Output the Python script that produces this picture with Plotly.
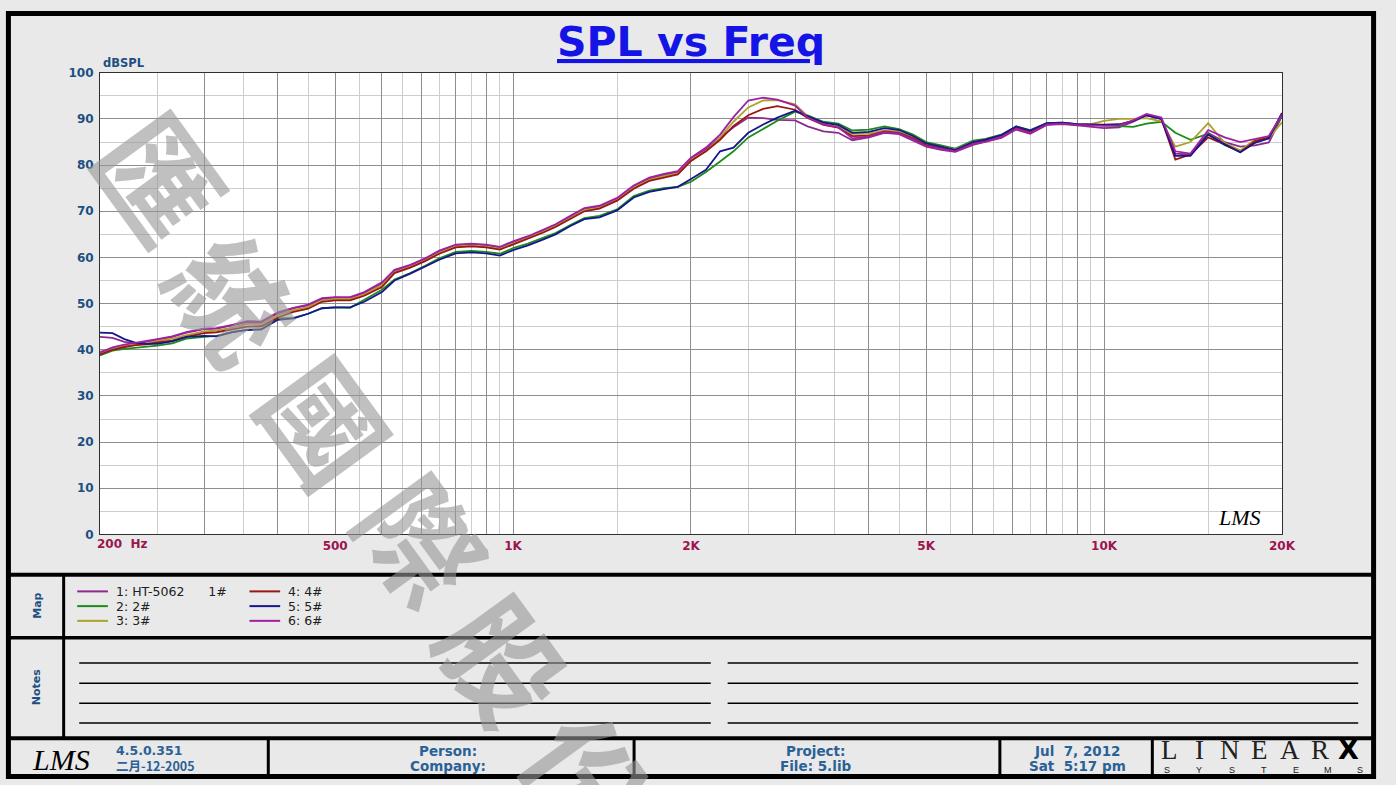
import math
import plotly.graph_objects as go

W, H = 1396, 785
def px(x): return x / W
def py(y): return 1 - y / H

# ---------------- data ----------------
freq = [200, 210, 220, 230, 240, 250, 265, 280, 300, 315, 335, 355, 375,
        400, 425, 450, 475, 500, 530, 560, 600, 630, 670, 710, 750,
        800, 850, 900, 950, 1000, 1060, 1120, 1180, 1250, 1320, 1400, 1500,
        1600, 1700, 1800, 1900, 2000, 2120, 2240, 2360, 2500, 2650, 2800, 3000,
        3150, 3350, 3550, 3750, 4000, 4250, 4500, 4750, 5000,
        5300, 5600, 6000, 6300, 6700, 7100, 7500, 8000, 8500, 9000, 9500, 10000,
        10600, 11200, 11800, 12500, 13200, 14000, 15000, 16000, 17000, 18000, 19000, 20000]

s1 = [42.8, 42.6, 41.7, 41.4, 41.7, 42.2, 42.8, 43.7, 44.5, 44.6, 45.3, 46.0, 46.0,
      47.9, 49.0, 49.6, 51.0, 51.3, 51.2, 52.3, 54.4, 57.1, 58.3, 59.6, 61.3,
      62.6, 62.8, 62.6, 62.1, 63.3, 64.4, 65.7, 67.0, 68.8, 70.5, 71.0, 72.7,
      75.4, 77.1, 77.9, 78.5, 81.4, 83.5, 86.0, 88.2, 90.3, 90.2, 89.8, 89.7,
      88.4, 87.3, 87.0, 85.4, 86.0, 87.0, 86.7, 85.4, 84.0,
      83.3, 82.9, 84.4, 85.0, 85.9, 87.7, 86.8, 88.7, 88.9, 88.6, 88.3, 88.0,
      88.2, 89.4, 90.8, 90.0, 82.5, 82.3, 87.0, 85.0, 84.0, 84.3, 84.9, 90.6]

s2 = [38.8, 39.8, 40.2, 40.4, 40.6, 40.9, 41.4, 42.4, 42.8, 43.0, 43.8, 44.3, 44.4,
      46.8, 46.9, 47.8, 49.0, 49.2, 49.1, 50.8, 53.0, 55.2, 56.6, 58.2, 59.8,
      61.2, 61.4, 61.2, 60.8, 62.0, 63.0, 64.2, 65.3, 67.0, 68.5, 69.0, 70.4,
      73.3, 74.5, 75.0, 75.3, 76.4, 78.5, 80.8, 83.0, 86.0, 87.9, 89.6, 91.6,
      90.8, 89.4, 89.0, 87.5, 87.7, 88.4, 87.8, 86.6, 85.0,
      84.3, 83.6, 85.3, 85.7, 86.6, 88.4, 87.6, 89.1, 89.2, 88.9, 88.8, 88.6,
      88.5, 88.3, 89.0, 89.4, 87.0, 85.5, 86.8, 84.3, 83.0, 85.0, 85.8, 90.8]

s3 = [39.6, 40.3, 40.8, 41.1, 41.4, 41.9, 42.4, 43.2, 44.0, 44.2, 44.8, 45.6, 45.6,
      47.5, 48.6, 49.3, 50.7, 51.0, 51.0, 52.0, 54.0, 56.8, 58.0, 59.4, 61.0,
      62.4, 62.6, 62.4, 61.9, 63.0, 64.2, 65.5, 66.8, 68.6, 70.3, 70.8, 72.5,
      75.2, 76.8, 77.6, 78.2, 81.2, 83.0, 86.0, 89.4, 92.5, 94.0, 94.1, 93.2,
      90.6, 89.0, 88.5, 86.8, 86.8, 87.5, 87.2, 86.0, 84.5,
      83.9, 83.4, 85.0, 85.4, 86.4, 88.2, 87.4, 89.0, 89.1, 88.8, 88.9, 89.6,
      90.0, 90.0, 90.2, 89.5, 84.0, 85.0, 89.1, 84.8, 83.2, 85.5, 85.8, 89.3]

s4 = [39.0, 40.0, 40.6, 41.0, 41.2, 41.6, 42.0, 42.8, 43.6, 43.8, 44.4, 45.0, 45.1,
      47.0, 48.2, 48.9, 50.4, 50.7, 50.7, 51.7, 53.6, 56.6, 57.8, 59.2, 60.8,
      62.2, 62.4, 62.2, 61.7, 62.8, 64.0, 65.3, 66.6, 68.4, 70.0, 70.6, 72.3,
      74.9, 76.6, 77.3, 78.0, 80.9, 83.0, 85.5, 88.5, 90.8, 92.2, 92.8, 92.0,
      90.2, 88.7, 88.1, 86.3, 86.4, 87.3, 87.0, 85.8, 84.3,
      83.7, 83.1, 84.8, 85.3, 86.3, 88.1, 87.2, 89.0, 89.1, 88.8, 88.7, 88.7,
      88.8, 89.6, 90.9, 90.0, 81.2, 82.3, 86.0, 84.5, 82.8, 85.2, 86.0, 91.2]

s5 = [43.7, 43.6, 42.3, 41.5, 41.3, 41.3, 41.8, 42.8, 43.0, 42.9, 43.8, 44.3, 44.4,
      46.5, 46.8, 47.8, 49.0, 49.2, 49.2, 50.4, 52.5, 55.0, 56.5, 58.0, 59.5,
      60.9, 61.1, 60.9, 60.4, 61.6, 62.6, 63.8, 65.0, 66.8, 68.3, 68.7, 70.2,
      73.0, 74.2, 74.8, 75.3, 77.0, 79.0, 83.0, 83.8, 87.0, 88.8, 90.3, 91.8,
      90.6, 89.2, 88.7, 87.0, 87.2, 88.0, 87.6, 86.3, 84.7,
      84.0, 83.3, 85.0, 85.5, 86.5, 88.4, 87.5, 89.1, 89.2, 88.9, 88.8, 88.7,
      88.8, 89.6, 90.8, 90.0, 82.0, 82.0, 86.6, 84.5, 82.8, 84.8, 85.8, 91.3]

s6 = [39.4, 40.5, 41.1, 41.5, 41.8, 42.3, 42.9, 43.8, 44.6, 44.7, 45.4, 46.2, 46.1,
      48.1, 49.1, 49.8, 51.2, 51.4, 51.4, 52.5, 54.6, 57.3, 58.4, 59.8, 61.5,
      62.8, 63.0, 62.8, 62.3, 63.5, 64.6, 65.9, 67.2, 69.0, 70.7, 71.2, 72.9,
      75.6, 77.3, 78.1, 78.7, 81.6, 83.8, 86.6, 90.4, 94.0, 94.6, 94.2, 92.9,
      90.3, 88.8, 88.2, 85.8, 86.2, 87.2, 86.9, 85.6, 84.1,
      83.5, 83.0, 84.6, 85.1, 86.1, 87.9, 87.0, 88.8, 89.0, 88.7, 88.6, 88.5,
      88.6, 89.7, 91.1, 90.3, 83.0, 82.5, 87.6, 86.0, 85.0, 85.7, 86.3, 91.0]

series = [s1, s2, s3, s4, s5, s6]
names = ["1: HT-5062\u00a0\u00a0\u00a0\u00a0\u00a0\u00a01#", "2: 2#", "3: 3#",
         "4: 4#", "5: 5#", "6: 6#"]
colors = ["#8e2a8e", "#1a8c1a", "#aca22c", "#9a1616", "#16168e", "#a21ea2"]

y_ticks = list(range(0, 101, 10))
y_minor = list(range(5, 100, 10))
x_major = [200, 300, 400, 500, 600, 700, 800, 900, 1000,
           2000, 3000, 4000, 5000, 6000, 7000, 8000, 9000, 10000, 20000]
x_minor = [250, 350, 450, 550, 650, 750, 850, 950,
           1500, 2500, 3500, 4500, 5500, 6500, 7500, 8500, 9500, 15000]
x_labels = {500: "500", 1000: "1K", 2000: "2K", 5000: "5K", 10000: "10K", 20000: "20K"}
x_first_label = "200\u00a0\u00a0Hz"

# ---------------- figure ----------------
fig = go.Figure()
for s, n, c in zip(series, names, colors):
    fig.add_trace(go.Scatter(x=freq, y=s, name=n, mode="lines",
                             line=dict(color=c, width=1.8), showlegend=False))

BLUE = "#1d4f82"
RED = "#9c1450"
FOOT = "#2a6196"

fig.update_layout(
    width=W, height=H, autosize=False,
    margin=dict(l=0, r=0, t=0, b=0, pad=0),
    paper_bgcolor="#e9e9e9", plot_bgcolor="white",
    xaxis=dict(type="log", range=[math.log10(200), math.log10(20000)],
               domain=[px(101), px(1295)],
               tickmode="array", tickvals=x_major,
               ticktext=[x_labels.get(v, "") for v in x_major],
               tickfont=dict(family="DejaVu Sans", size=12, color=RED, weight="bold"),
               showgrid=True, gridcolor="#8e8e8e", gridwidth=1,
               minor=dict(tickmode="array", tickvals=x_minor, showgrid=True,
                          gridcolor="#cdcdcd", gridwidth=1, ticks=""),
               showline=True, mirror=True, linecolor="#303030", linewidth=1,
               ticks="", zeroline=False, fixedrange=True),
    yaxis=dict(range=[0, 100], domain=[py(537), py(67)],
               tickmode="array", tickvals=y_ticks, ticktext=[str(v) for v in y_ticks],
               tickfont=dict(family="DejaVu Sans", size=12, color=BLUE, weight="bold"),
               showgrid=True, gridcolor="#8e8e8e", gridwidth=1,
               minor=dict(tickmode="array", tickvals=y_minor, showgrid=True,
                          gridcolor="#cdcdcd", gridwidth=1, ticks=""),
               showline=True, mirror=True, linecolor="#303030", linewidth=1,
               ticks="outside", ticklen=3, tickcolor="rgba(0,0,0,0)",
               zeroline=False, fixedrange=True),
)

shapes = []
# outer thick frame
shapes.append(dict(type="rect", xref="paper", yref="paper",
                   x0=px(8.5), x1=px(1387.5), y0=py(783.5), y1=py(6.5),
                   line=dict(color="black", width=5), layer="below"))
# horizontal separators
for yy, wd in [(578, 4), (642.3, 3.5), (744.5, 4)]:
    shapes.append(dict(type="line", xref="paper", yref="paper",
                       x0=px(8), x1=px(1388), y0=py(yy), y1=py(yy),
                       line=dict(color="black", width=wd)))
# vertical divider for Map / Notes labels
shapes.append(dict(type="line", xref="paper", yref="paper",
                   x0=px(64.3), x1=px(64.3), y0=py(578), y1=py(744.5),
                   line=dict(color="black", width=3)))
# footer dividers
for xx in [271, 640.5, 1010, 1164]:
    shapes.append(dict(type="line", xref="paper", yref="paper",
                       x0=px(xx), x1=px(xx), y0=py(744.5), y1=py(783),
                       line=dict(color="black", width=3)))
# notes lines
for yy in [668, 688.5, 709, 729]:
    for xa, xb in [(80, 718), (735, 1372)]:
        shapes.append(dict(type="line", xref="paper", yref="paper",
                           x0=px(xa), x1=px(xb), y0=py(yy), y1=py(yy),
                           line=dict(color="black", width=1.5)))
# legend samples
for i, c in enumerate(colors):
    col, row = divmod(i, 3)
    x0 = 78 + col * 174
    yy = 595 + row * 15
    shapes.append(dict(type="line", xref="paper", yref="paper",
                       x0=px(x0), x1=px(x0 + 31), y0=py(yy), y1=py(yy),
                       line=dict(color=c, width=2)))

ann = []
def A(text, x, y, size=12, color="black", family="DejaVu Sans", xanchor="center",
      yanchor="middle", angle=0, weight="normal"):
    ann.append(dict(text=text, x=px(x), y=py(y), xref="paper", yref="paper",
                    showarrow=False, xanchor=xanchor, yanchor=yanchor, textangle=angle,
                    font=dict(size=size, color=color, family=family, weight=weight)))

# watermark
wm_chars = ["匯", "統", "國", "際", "股", "份"]
wm_pos = [(165, 172), (238, 295), (332, 420), (430, 540), (512, 662), (598, 782)]
for ch, (wx, wy) in zip(wm_chars, wm_pos):
    A(ch, wx, wy, size=118, color="rgba(150,150,150,0.6)",
      family="Noto Sans CJK TC", angle=54, weight="bold")

# title
A("<u>SPL vs Freq</u>", 698, 36, size=41, color="#1414e6", family="DejaVu Sans",
  weight="bold")
A("dBSPL", 102, 57, size=11.5, color=BLUE, xanchor="left", weight="bold")
# first x label (left aligned at the 200 Hz edge)
ann.append(dict(text=x_first_label, x=math.log10(freq[0]), y=py(547), xref="x", yref="paper",
                showarrow=False, xanchor="left", yanchor="middle", xshift=-5,
                font=dict(size=12, color=RED, family="DejaVu Sans", weight="bold")))
A("<i>LMS</i>", 1252, 520, size=22, color="black", family="Liberation Serif")

# legend
for i, n in enumerate(names):
    col, row = divmod(i, 3)
    A(n, 78 + col * 174 + 37, 595 + row * 15, size=12.5, color="#202020",
      family="DejaVu Sans", xanchor="left")
A("Map", 37, 610, size=11, color=BLUE, angle=-90, weight="bold")
A("Notes", 37, 693, size=11, color=BLUE, angle=-90, weight="bold")

# footer
A("<i>LMS</i>", 62, 766, size=30, color="black", family="Liberation Serif")
A("4.5.0.351", 115, 757.5, size=12.5, color=FOOT, xanchor="left", weight="bold")
A("二月-12-2005", 115, 772, size=12.5, color=FOOT, xanchor="left", weight="bold",
  family="Noto Sans CJK SC")
A("Person:", 453, 757.5, size=13.5, color=FOOT, weight="bold")
A("Company:", 453, 772.5, size=13.5, color=FOOT, weight="bold")
A("Project:", 824, 757.5, size=13.5, color=FOOT, weight="bold")
A("File: 5.lib", 824, 772.5, size=13.5, color=FOOT, weight="bold")
A("Jul\u00a0\u00a07, 2012", 1088, 757.5, size=13.5, color=FOOT, weight="bold")
A("Sat\u00a0\u00a05:17 pm", 1088, 772.5, size=13.5, color=FOOT, weight="bold")
for k, ch in enumerate("LINEAR"):
    A(ch, 1181 + k * 30.5, 774, size=27, color="#202020", family="Liberation Serif",
      yanchor="bottom")
A("X", 1362, 774, size=27, color="black", family="DejaVu Sans", weight="bold",
  yanchor="bottom")
for k, ch in enumerate("SYSTEMS"):
    A(ch, 1179 + k * 32.5, 770, size=9, color="#202020", family="Liberation Sans",
      yanchor="top")

fig.update_layout(shapes=shapes, annotations=ann)
fig.write_html("out.html", config={"displayModeBar": False}, post_script=(
    "document.documentElement.style.margin='0';"
    "document.documentElement.style.overflow='hidden';"
    "document.body.style.margin='0';document.body.style.padding='0';"
    "document.body.style.overflow='hidden';"
    "var gd=document.getElementById('{plot_id}');"
    "gd.style.position='fixed';gd.style.left='0px';gd.style.top='0px';"))
